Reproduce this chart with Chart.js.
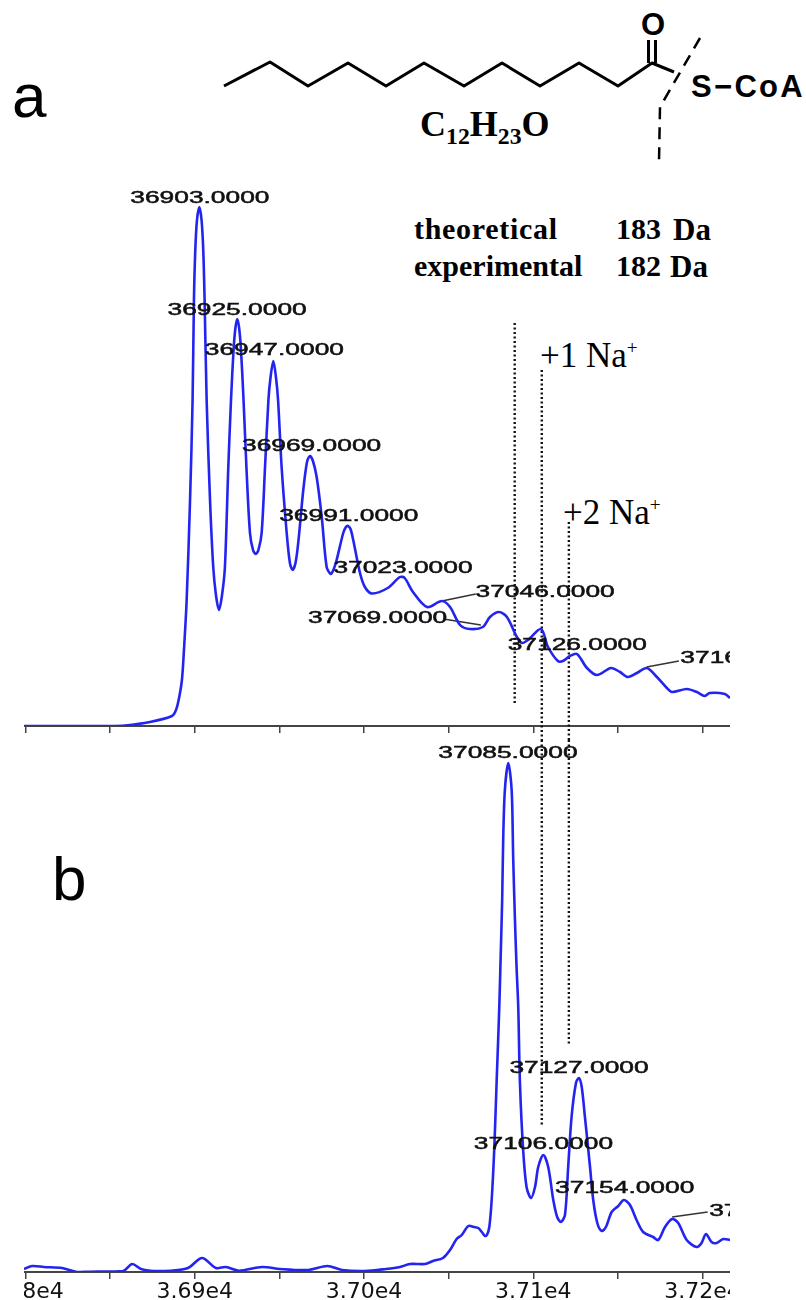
<!DOCTYPE html>
<html lang="en">
<head>
<meta charset="UTF-8">
<title>Mass spectra a and b</title>
<script src="https://cdn.jsdelivr.net/npm/chart.js"></script>
<style>
  body { margin: 0; background: #fff; width: 806px; height: 1300px; overflow: hidden; position: relative; }
  canvas { position: absolute; left: 24px; }
  #canvas_a { top: 190px; }
  #canvas_b { top: 726px; }
  .t { position: absolute; white-space: nowrap; color: #000; line-height: 1; }
  .serif { font-family: "Liberation Serif", serif; }
  .sans { font-family: "Liberation Sans", sans-serif; }
  sup { font-size: 55%; line-height: 0; }
  sub { font-size: 66%; line-height: 0; vertical-align: -0.32em; }
  svg { position: absolute; left: 0; top: 0; }
</style>
</head>
<body>
<svg width="806" height="180" fill="none" stroke="#000" stroke-width="3" stroke-linejoin="round">
  <polyline points="224,86 270,62 308,86 348,63 386,86 424,63 464,86 502,63 540,86 579,63 618,86 652,63 674,72"/>
  <line x1="648.5" y1="40" x2="648.5" y2="63"/>
  <line x1="655.5" y1="40" x2="655.5" y2="63"/>
  <polyline points="700,38 660,107 659,162" stroke-dasharray="12 8" stroke-width="2.5"/>
</svg>
<div class="t sans" style="left:641px;top:9px;font-size:31px;font-weight:bold">O</div>
<div class="t sans" style="left:691px;top:71px;font-size:31px;font-weight:bold;letter-spacing:2.3px">S−CoA</div>
<div class="t serif" style="left:420px;top:106px;font-size:36px;font-weight:bold">C<sub>12</sub>H<sub>23</sub>O</div>
<div class="t sans" style="left:12px;top:65px;font-size:62px">a</div>
<div class="t sans" style="left:52px;top:848px;font-size:62px">b</div>
<div class="t serif" style="left:414px;top:214px;font-size:30px;font-weight:bold;letter-spacing:0.7px">theoretical</div>
<div class="t serif" style="left:616px;top:214px;font-size:30px;font-weight:bold">183</div>
<div class="t serif" style="left:673px;top:214px;font-size:31px;font-weight:bold">Da</div>
<div class="t serif" style="left:414px;top:251px;font-size:30px;font-weight:bold">experimental</div>
<div class="t serif" style="left:616px;top:251px;font-size:30px;font-weight:bold">182</div>
<div class="t serif" style="left:670px;top:251px;font-size:31px;font-weight:bold">Da</div>
<div class="t serif" style="left:540px;top:338px;font-size:35px">+1 Na<sup>+</sup></div>
<div class="t serif" style="left:563px;top:495px;font-size:35px">+2 Na<sup>+</sup></div>

<canvas id="canvas_a" width="706" height="550"></canvas>
<canvas id="canvas_b" width="706" height="574"></canvas>

<script>
    // spectrum a, mass (Da) and intensity
    const massA = [36799.1, 36849.9, 36858.8, 36873.5, 36886.5, 36888.9, 36890.7, 36892.4, 36893.6, 36895.2, 36897.2, 36898.7, 36899.5, 36900.3, 36901.3, 36902.7, 36904, 36905, 36905.8, 36907, 36909, 36910.9, 36912.5, 36914.3, 36916.1, 36917.8, 36919.8, 36921.4, 36922.9, 36924, 36925.1, 36926.2, 36927.3, 36928.8, 36930.5, 36932.6, 36934.4, 36936, 36937.6, 36939.5, 36941.5, 36943.5, 36944.7, 36946.4, 36948, 36949.2, 36951.3, 36954.3, 36956.2, 36957.8, 36959.5, 36961.1, 36964.1, 36966.3, 36968, 36969.8, 36972, 36975, 36977.9, 36980.3, 36981.9, 36983.8, 36987.7, 36989.3, 36990.5, 36992, 36993.6, 36997.6, 37000.5, 37004.7, 37014, 37021.2, 37024, 37028.9, 37037.2, 37046, 37050.8, 37056.7, 37062.6, 37070.2, 37074.4, 37079.7, 37084.4, 37090.3, 37093.3, 37096.8, 37104.5, 37108.7, 37114.5, 37117.5, 37121.6, 37125.8, 37131.7, 37137.6, 37145.9, 37151.2, 37155.9, 37161.2, 37167.1, 37173, 37178.9, 37181.9, 37190.7, 37196.6, 37201.3, 37204.2, 37213.2, 37216.2];
    const intensityA = [0, 0, 0.5, 4, 10, 16, 28, 46, 76, 126, 226, 326, 426, 476, 506, 519, 506, 476, 426, 326, 226, 159, 131, 116, 131, 159, 259, 326, 376, 398, 407, 398, 376, 326, 259, 193, 176, 172, 176, 193, 259, 326, 348, 365, 348, 326, 259, 193, 163, 156, 163, 183, 236, 264, 270, 265, 249, 209, 159, 152, 156, 166, 193, 199, 200, 197, 186, 153, 139, 132.5, 138, 149, 148, 134, 119, 125, 119, 101, 97, 99, 109, 114, 109, 89, 83, 86, 97, 79, 65, 65, 70, 72, 58, 51, 58, 54, 49, 53, 58, 49, 38, 34, 37, 34, 30, 33, 32, 28];

    // spectrum b
    const massB = [36799.1, 36804, 36810.9, 36821.6, 36830.4, 36838, 36857.6, 36863, 36868.2, 36875.9, 36885.4, 36896, 36904.3, 36912.5, 36918.4, 36926, 36939.7, 36950.3, 36966.9, 36978.4, 36987, 37000.5, 37013, 37021.2, 37027.1, 37036, 37040.7, 37046.6, 37050.8, 37054.7, 37057.7, 37061.6, 37064.9, 37067.5, 37069.6, 37071.4, 37072.6, 37074, 37075.4, 37076.9, 37078.3, 37079.9, 37080.7, 37081.6, 37082.2, 37083.2, 37085.2, 37087.2, 37088.1, 37089.1, 37090.1, 37091.1, 37092.1, 37094, 37096, 37098.6, 37101, 37102.9, 37105.9, 37108.8, 37111.8, 37114.1, 37116.3, 37118.7, 37120.6, 37122.6, 37125.2, 37127, 37128.6, 37130.5, 37133.5, 37135.4, 37137.8, 37140.4, 37142.9, 37146.3, 37150.2, 37153.5, 37157.1, 37161, 37164.9, 37170.8, 37173.8, 37177.8, 37182, 37185.6, 37190.6, 37196.5, 37199.4, 37202, 37205.3, 37208.3, 37212.2, 37216.2];
    const intensityB = [3, 6, 5, 4, 0, 0.3, 1, 8, 3, 1, 1.3, 4, 14, 4, 5, 1.3, 5, 3, 2, 6, 2, 1, 3, 5, 8, 8, 11, 14, 22, 33, 37, 46, 45, 44, 40, 36, 37, 45, 72, 122, 189, 265, 315, 372, 432, 482, 509, 482, 415, 355, 305, 265, 189, 122, 85, 74, 85, 105, 117, 105, 72, 55, 50, 57, 105, 155, 189, 194, 185, 155, 105, 72, 49, 41, 45, 60, 66, 72, 67, 52, 40, 35, 32, 45, 53, 49, 32, 25, 29, 38, 30, 29, 33, 32];

    // x axis
    const tickMasses = [36800, 36900, 37000, 37100, 37200];
    const tickLabels = ['3.68e4', '3.69e4', '3.70e4', '3.71e4', '3.72e4'];

    // peak labels, with the mass and height their text is centred on
    const labelTextA = ['36903.0000', '36925.0000', '36947.0000', '36969.0000', '36991.0000', '37023.0000', '37046.0000', '37069.0000', '37126.0000', '37167.0000'];
    const labelMassA = [36903, 36925, 36947, 36969, 36991, 37023, 37107, 37008, 37126, 37228];
    const labelHeightA = [528, 416, 376, 280, 210, 158, 134, 108, 81, 68];
    const labelTextB = ['37085.0000', '37127.0000', '37106.0000', '37154.0000', '37181.0000'];
    const labelMassB = [37085, 37127, 37106, 37154, 37245];
    const labelHeightB = [519, 204, 128, 84, 61];

    // dotted guides at the adduct masses
    const guideA = [[37089, 403, 21], [37105, 356, -14], [37121, 204, -14]];
    const guideB = [[37105, 532, 147], [37121, 532, 227]];

    // leader lines from peak to label
    const leadersA = [[[37046, 125], [37066, 132]], [[37047, 107], [37069, 101]], [[37167, 59], [37186, 65]]];
    const leadersB = [[[37182, 55], [37203, 60]]];

    const toPoints = (xs, ys) => xs.map((x, i) => ({ x: x, y: ys[i] }));

    function peakLabels(texts, masses, heights) {
        return {
            id: 'peakLabels',
            afterDatasetsDraw(chart) {
                const c = chart.ctx;
                c.save();
                c.fillStyle = '#111';
                c.strokeStyle = '#111';
                c.lineWidth = 0.5;
                c.font = '17px "Liberation Sans"';
                c.textAlign = 'center';
                c.textBaseline = 'middle';
                texts.forEach((t, i) => {
                    c.save();
                    c.translate(chart.scales.x.getPixelForValue(masses[i]), chart.scales.y.getPixelForValue(heights[i]));
                    c.scale(1.55, 1);
                    c.fillText(t, 0, 0);
                    c.strokeText(t, 0, 0);
                    c.restore();
                });
                c.restore();
            }
        };
    }

    function spectrum(id, masses, values, yMax, guides, leaders, tickLabelsOn, axisHeight, labels) {
        const datasets = [{
            data: toPoints(masses, values),
            borderColor: '#2424f0',
            borderWidth: 2.6,
            pointRadius: 0,
            tension: 0.3
        }];
        guides.forEach(g => datasets.push({
            data: [{ x: g[0], y: g[1] }, { x: g[0], y: g[2] }],
            borderColor: '#111',
            borderWidth: 2.4,
            borderDash: [2, 2.5],
            pointRadius: 0,
            clip: false
        }));
        leaders.forEach(l => datasets.push({
            data: [{ x: l[0][0], y: l[0][1] }, { x: l[1][0], y: l[1][1] }],
            borderColor: '#333',
            borderWidth: 1.5,
            pointRadius: 0
        }));
        return new Chart(document.getElementById(id).getContext('2d'), {
            type: 'line',
            plugins: [labels],
            data: { datasets: datasets },
            options: {
                responsive: false,
                animation: false,
                layout: { padding: 0 },
                plugins: { legend: { display: false }, tooltip: { enabled: false } },
                scales: {
                    x: {
                        type: 'linear',
                        min: 36799.1,
                        max: 37216.2,
                        afterFit(s) { s.paddingLeft = 0; s.paddingRight = 0; s.height = axisHeight; },
                        border: { display: true, color: '#444', width: 2 },
                        grid: { drawOnChartArea: false, drawTicks: true, tickLength: 7, color: '#444', lineWidth: 1.5 },
                        ticks: {
                            stepSize: 50,
                            includeBounds: false,
                            autoSkip: false,
                            maxRotation: 0,
                            minRotation: 0,
                            display: tickLabelsOn,
                            color: '#111',
                            padding: 0,
                            font: { family: 'DejaVu Sans', size: 22 },
                            callback(v) {
                                const i = tickMasses.indexOf(v);
                                return i < 0 ? '' : tickLabels[i];
                            }
                        }
                    },
                    y: { display: false, min: 0, max: yMax }
                }
            }
        });
    }

    spectrum('canvas_a', massA, intensityA, 536, guideA, leadersA, false, 14, peakLabels(labelTextA, labelMassA, labelHeightA));
    spectrum('canvas_b', massB, intensityB, 546, guideB, leadersB, true, 28, peakLabels(labelTextB, labelMassB, labelHeightB));
</script>
</body>
</html>
